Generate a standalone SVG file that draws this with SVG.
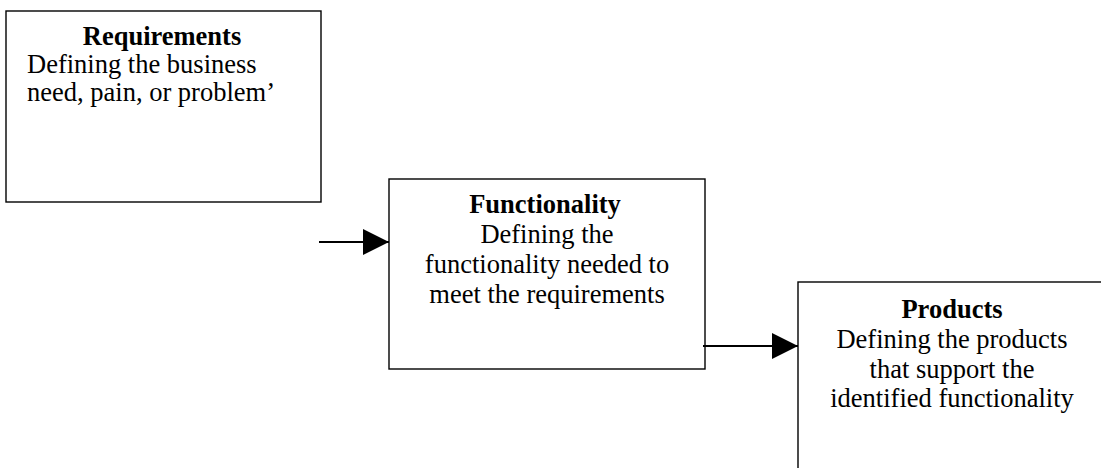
<svg xmlns="http://www.w3.org/2000/svg" width="1101" height="468" viewBox="0 0 1101 468">
<style>
.box{fill:#fff;stroke:#000;stroke-width:1.4}
.t{font-family:"Liberation Serif","Times New Roman",serif;font-size:26.5px;fill:#000}
.h{font-weight:bold}
.c{text-anchor:middle}
.conn{stroke:#000;stroke-width:2;fill:none}
</style>
<defs>
<marker id="arr" markerUnits="userSpaceOnUse" markerWidth="26" markerHeight="26" refX="26" refY="13" orient="auto">
<path d="M0,0 L26,13 L0,26 z" fill="#000"/>
</marker>
</defs>
<rect width="1101" height="468" fill="#fff"/>
<g id="requirements">
<rect class="box" x="6" y="11" width="315" height="191"/>
<text class="t h c" x="162" y="45">Requirements</text>
<text class="t" x="27" y="73">Defining the business</text>
<text class="t" x="27" y="101">need, pain, or problem’</text>
</g>
<g id="functionality">
<rect class="box" x="389" y="179" width="316" height="190"/>
<text class="t h c" x="545" y="213">Functionality</text>
<text class="t c" x="547" y="243">Defining the</text>
<text class="t c" x="547" y="273">functionality needed to</text>
<text class="t c" x="547" y="303">meet the requirements</text>
</g>
<g id="products">
<rect class="box" x="798" y="282" width="320" height="200"/>
<text class="t h c" x="952" y="318">Products</text>
<text class="t c" x="952" y="348">Defining the products</text>
<text class="t c" x="952" y="378">that support the</text>
<text class="t c" x="952" y="407">identified functionality</text>
</g>
<g id="connectors">
<line class="conn" x1="319" y1="242" x2="389" y2="242" marker-end="url(#arr)"/>
<line class="conn" x1="703" y1="346" x2="798" y2="346" marker-end="url(#arr)"/>
</g>
</svg>
